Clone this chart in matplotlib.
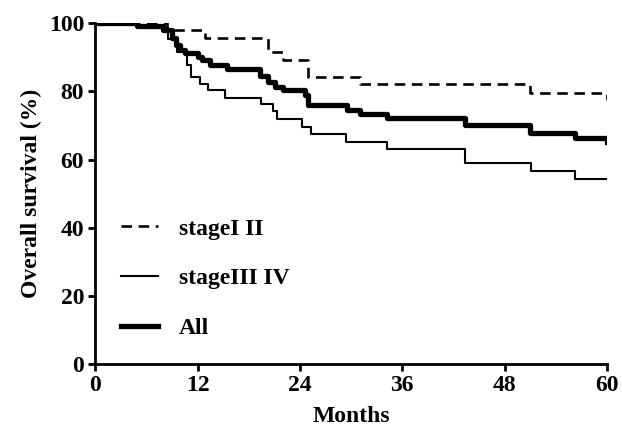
import matplotlib
matplotlib.use("Agg")
import matplotlib.pyplot as plt

# Kaplan-Meier step data (months, % surviving)
t_early = [0, 8.4, 12.9, 20.3, 22.0, 25.0, 31.0, 51.0, 60]
s_early = [100, 97.9, 95.7, 91.5, 89.1, 84.3, 82.3, 79.6, 77.4]

t_late = [0, 5.0, 8.5, 9.6, 10.8, 11.2, 12.3, 13.2, 15.2, 19.4, 20.9, 21.3,
          24.3, 25.3, 29.4, 34.2, 43.4, 51.1, 56.2, 60]
s_late = [100, 98.6, 95.5, 91.6, 87.7, 84.2, 82.3, 80.4, 78.2, 76.3, 74.2, 71.8,
          69.5, 67.6, 65.2, 63.0, 58.9, 56.7, 54.3, 54.3]

t_all = [0, 4.9, 8.0, 9.0, 9.5, 10.0, 10.5, 12.0, 12.5, 13.5, 15.5, 19.3, 20.3,
         21.1, 22.0, 24.6, 25.0, 29.5, 31.0, 34.2, 43.4, 51.0, 56.2, 60]
s_all = [100, 99.2, 97.9, 95.6, 93.5, 92.0, 91.2, 90.0, 89.1, 87.7, 86.6, 84.6, 82.7,
         81.2, 80.4, 78.9, 75.9, 74.5, 73.5, 72.3, 70.0, 67.7, 66.2, 65.0]

labels = ["stageI II", "stageIII IV", "All"]
xticks = [0, 12, 24, 36, 48, 60]
yticks = [0, 20, 40, 60, 80, 100]

plt.rcParams['font.family'] = ['Liberation Serif', 'DejaVu Serif']
plt.rcParams['font.weight'] = 'bold'

fig = plt.figure(figsize=(6.22, 4.38), dpi=100)
ax = fig.add_axes([0.153, 0.169, 0.823, 0.778])

ax.step(t_early, s_early, where='post', color='black', lw=1.9,
        dashes=(4, 2.5), label=labels[0])
ax.step(t_late, s_late, where='post', color='black', lw=1.5, label=labels[1])
ax.step(t_all, s_all, where='post', color='black', lw=3.8, label=labels[2])

ax.set_xlim(0, 60)
ax.set_ylim(0, 100)
ax.set_xticks(xticks)
ax.set_yticks(yticks)
for s in ['top', 'right']:
    ax.spines[s].set_visible(False)
for s in ['left', 'bottom']:
    ax.spines[s].set_linewidth(2)
ax.tick_params(width=2, length=5, labelsize=17, pad=3)
for lab in ax.get_xticklabels() + ax.get_yticklabels():
    lab.set_fontweight('bold')

ax.set_xlabel('Months', fontsize=17, fontweight='bold', labelpad=7)
ax.set_ylabel('Overall survival (%)', fontsize=17, fontweight='bold', labelpad=5)

ax.legend(loc='lower left', bbox_to_anchor=(0.028, 0.038), frameon=False,
          borderpad=0, handlelength=1.55, handletextpad=0.9, labelspacing=1.2,
          prop={'weight': 'bold', 'size': 17})

fig.savefig('out.png', dpi=100)
